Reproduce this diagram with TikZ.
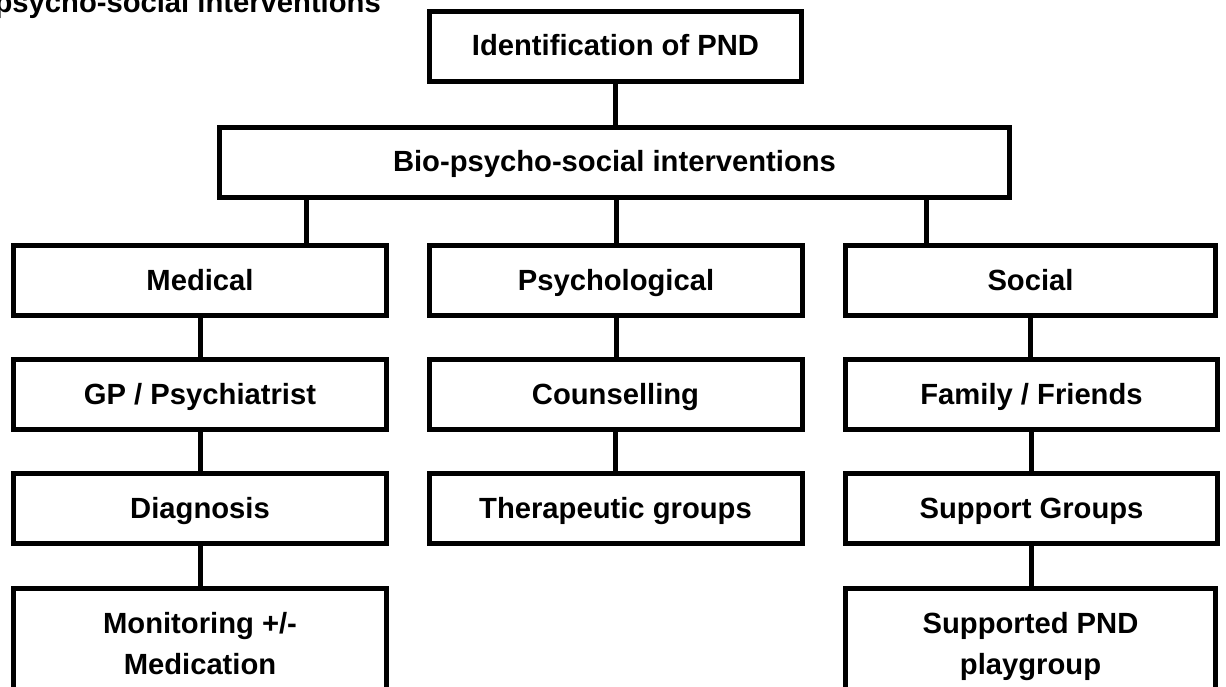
\documentclass[tikz,border=0pt]{standalone}
\usepackage{fontspec}
\setmainfont{Liberation Sans}
\begin{document}
\begin{tikzpicture}[x=1pt,y=-1pt,
  box/.style={draw=black, line width=5pt, fill=white, minimum height=70pt,
    inner sep=0pt, font=\fontsize{29.2}{41}\selectfont\bfseries,
    text height=21pt, text depth=2pt, anchor=center},
  tallbox/.style={box, minimum height=109pt, text height=62pt, text depth=0pt, align=center},
  link/.style={draw=black, line width=5pt}]
\useasboundingbox (0,0) rectangle (1226,687);
\clip (0,0) rectangle (1226,687);

% heading
\node[font=\fontsize{29.2}{35}\selectfont\bfseries, anchor=base east, inner sep=0pt]
  (heading) at (381,13) {psycho-social interventions};

% tap points on the wide box
\coordinate (medtap) at (306,0);
\coordinate (soctap) at (926,0);

% boxes
\node[box, minimum width=372pt] (ident) at (615.5,46.5) {Identification of PND};
\node[box, minimum width=790pt] (bio) at (614.5,162.5) {Bio-psycho-social interventions};

\node[box, minimum width=373pt] (medical) at (200,280.5) {Medical};
\node[box, minimum width=373pt] (psych) at (616,280.5) {Psychological};
\node[box, minimum width=370pt] (social) at (1030.5,280.5) {Social};

\node[box, minimum width=373pt] (gp) at (200,394.5) {GP / Psychiatrist};
\node[box, minimum width=373pt] (counsel) at (615.5,394.5) {Counselling};
\node[box, minimum width=372pt] (family) at (1031.5,394.5) {Family / Friends};

\node[box, minimum width=373pt] (diag) at (200,508.5) {Diagnosis};
\node[box, minimum width=373pt] (thera) at (615.5,508.5) {Therapeutic groups};
\node[box, minimum width=372pt] (support) at (1031.5,508.5) {Support Groups};

\node[tallbox, minimum width=373pt] (monitor) at (200,643) {Monitoring +/-\\Medication};
\node[tallbox, minimum width=370pt] (playgroup) at (1030.5,643) {Supported PND\\playgroup};

% connectors
\draw[link] (ident.south) -- (ident.south |- bio.north);
\draw[link] (bio.south -| medtap) -- (medical.north -| medtap);
\draw[link] (psych.north |- bio.south) -- (psych.north);
\draw[link] (bio.south -| soctap) -- (social.north -| soctap);
\draw[link] (medical.south) -- (gp.north);
\draw[link] (gp.south) -- (diag.north);
\draw[link] (diag.south) -- (monitor.north);
\draw[link] (psych.south) -- (counsel.north -| psych.south);
\draw[link] (counsel.south) -- (thera.north);
\draw[link] (social.south) -- (family.north -| social.south);
\draw[link] (family.south) -- (support.north);
\draw[link] (support.south) -- (playgroup.north -| support.south);
\end{tikzpicture}
\end{document}
